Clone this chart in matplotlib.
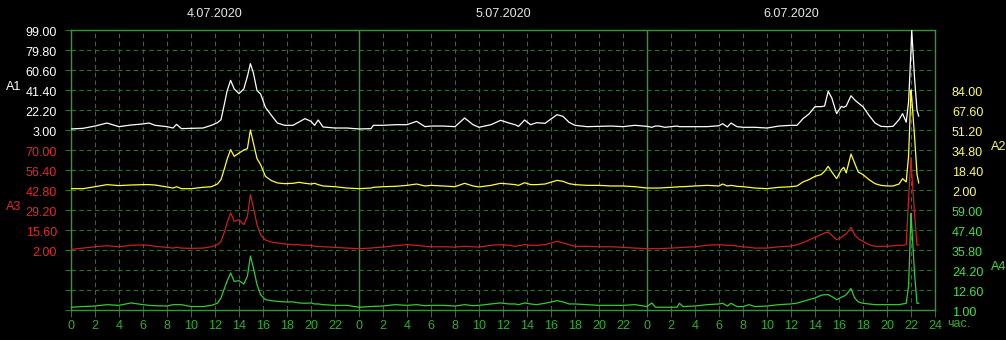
import matplotlib
matplotlib.use('Agg')
import matplotlib.pyplot as plt
import matplotlib.transforms as mtransforms

plt.rcParams['font.family'] = ['Liberation Sans Narrow', 'Liberation Sans', 'DejaVu Sans']

# hours counted from 4.07.2020 00:00
hours = [0, 1, 2, 3, 4, 5, 6, 6.5, 7, 8, 8.5, 8.8, 9.2, 10, 11, 11.7, 12.2, 12.5, 12.8, 13.0,
         13.3, 13.6, 14.0, 14.4, 14.7, 14.95, 15.2, 15.5, 15.8, 16.2, 16.7, 17.2, 17.8, 18.5, 19, 19.5,
         20, 20.3, 20.6, 21, 22, 23,
         24, 25, 25.2, 26, 27, 28, 28.8, 29.5, 30, 31, 32, 32.8, 33.5, 34, 35, 35.8, 36.5, 37, 37.3, 37.8,
         38.3, 38.8, 39.5, 40.5, 41, 41.5, 42, 43, 44, 45, 46, 47,
         48, 48.4, 48.7, 49, 49.5, 50, 50.5, 50.7, 51, 52, 53, 54, 54.3, 54.7, 55, 55.5, 56, 56.5, 57, 58,
         59, 60, 60.5, 61, 61.5, 62, 62.5, 62.8, 63.1, 63.4, 63.8, 64.2, 64.4, 64.6, 65.0, 65.3, 65.6, 66,
         66.5, 67, 67.5, 68, 68.5, 69, 69.3, 69.6, 69.8, 70.0, 70.06, 70.3, 70.5, 70.64]

a1 = [4.0, 4.6, 6.8, 9.7, 6.2, 7.8, 8.8, 9.7, 7.5, 6.2, 4.9, 8.4, 4.3, 4.6, 4.9, 7.5, 10.0, 12.9, 28.9, 40.1,
      50.7, 42.4, 37.9, 42.4, 54.5, 66.7, 57.7, 40.8, 37.6, 24.8, 17.1, 9.7, 7.5, 7.5, 10.7, 13.9,
      11.3, 7.5, 12.6, 5.9, 4.9, 4.9,
      4.0, 4.3, 7.5, 7.5, 8.1, 8.1, 11.3, 6.2, 6.8, 6.8, 6.2, 14.5, 8.1, 5.6, 8.1, 12.3, 9.7, 8.1, 6.5, 12.6,
      8.1, 10.0, 9.4, 17.7, 16.1, 10.4, 7.5, 6.2, 6.5, 6.8, 6.2, 7.5,
      6.5, 5.6, 6.8, 6.8, 5.6, 6.2, 6.8, 6.2, 6.2, 6.2, 6.2, 7.1, 9.1, 5.9, 9.7, 6.2, 5.6, 5.6, 5.6, 4.9,
      6.8, 7.5, 7.5, 13.9, 18.4, 25.4, 25.4, 26.0, 40.1, 33.7, 18.7, 25.7, 24.8, 26.0, 35.9, 32.0, 29.0, 25.4,
      17.1, 9.7, 6.5, 6.2, 6.5, 12.9, 18.7, 10.5, 30.0, 80.0, 99.0, 52.0, 22.0, 16.4]

a2 = [3.1, 3.1, 4.7, 6.4, 5.6, 6.1, 6.4, 6.4, 6.1, 4.5, 3.6, 4.7, 3.1, 3.1, 4.2, 4.7, 6.9, 10.5, 20.0, 26.9,
      35.1, 29.6, 32.3, 34.8, 35.9, 51.2, 40.5, 27.7, 22.8, 13.2, 9.7, 7.8, 7.2, 7.5, 8.3, 7.5,
      6.9, 7.5, 6.4, 5.3, 4.7, 3.6,
      3.1, 3.6, 4.2, 4.7, 5.0, 5.8, 6.9, 5.3, 5.8, 5.3, 4.7, 7.5, 5.3, 4.5, 5.8, 7.5, 6.9, 6.4, 5.8, 8.0,
      6.4, 6.4, 6.9, 9.9, 9.1, 7.2, 6.4, 5.8, 5.8, 5.3, 5.3, 4.7,
      3.6, 3.6, 3.6, 3.6, 3.9, 4.2, 4.5, 4.7, 4.7, 5.3, 5.8, 5.3, 6.9, 5.3, 5.8, 5.0, 4.7, 4.2, 3.6, 3.1,
      4.2, 4.7, 5.3, 8.6, 10.5, 13.2, 14.6, 17.3, 21.4, 16.8, 11.3, 18.7, 20.6, 16.0, 31.5, 24.1, 16.8, 14.6,
      10.5, 7.2, 5.8, 5.3, 5.3, 6.9, 11.3, 8.6, 30.0, 84.0, 78.0, 45.0, 15.0, 7.8]

a3 = [2.4, 3.3, 4.2, 4.9, 4.2, 5.2, 5.4, 5.2, 4.5, 3.8, 3.3, 3.8, 3.3, 3.1, 3.3, 4.2, 5.6, 7.9, 14.7, 20.3,
      27.2, 21.5, 22.6, 19.2, 24.9, 39.6, 30.6, 19.2, 12.4, 8.8, 7.4, 6.8, 6.1, 5.6, 5.6, 5.2,
      5.2, 4.5, 4.5, 4.2, 3.8, 3.3,
      2.9, 3.3, 3.5, 4.0, 4.9, 5.6, 5.2, 4.5, 4.2, 4.2, 4.0, 4.5, 4.2, 4.0, 5.2, 5.6, 5.2, 4.5, 4.9, 5.6,
      5.2, 5.2, 5.6, 7.9, 6.8, 5.6, 4.5, 4.5, 4.2, 4.2, 3.8, 3.3,
      2.9, 2.9, 2.9, 2.9, 3.1, 3.3, 3.5, 3.6, 3.8, 4.2, 5.2, 5.6, 5.4, 5.2, 5.2, 4.7, 4.2, 3.8, 3.3, 3.3,
      4.2, 4.7, 5.6, 7.0, 8.8, 10.6, 12.4, 13.6, 14.2, 12.0, 9.0, 10.6, 12.0, 12.9, 17.4, 12.4, 9.7, 7.9,
      5.6, 4.5, 4.5, 4.5, 4.9, 5.2, 5.2, 5.6, 37.0, 65.0, 55.0, 26.0, 5.4, 5.4]

a4 = [2.6, 3.0, 3.3, 4.1, 3.7, 5.1, 4.1, 3.7, 3.5, 3.3, 4.1, 4.1, 4.1, 3.0, 3.0, 3.7, 4.9, 8.0, 13.8, 17.6,
      22.5, 17.6, 18.0, 16.1, 20.6, 32.3, 25.4, 15.7, 9.9, 7.0, 6.4, 6.0, 5.7, 5.7, 5.1, 4.9,
      5.1, 4.5, 4.5, 4.1, 3.7, 3.7,
      2.6, 3.0, 3.1, 3.3, 4.1, 3.7, 4.1, 3.5, 3.7, 3.7, 3.3, 4.1, 3.5, 3.7, 4.5, 5.1, 4.5, 4.5, 4.1, 5.1,
      4.5, 4.1, 4.9, 6.4, 5.7, 4.5, 4.5, 4.1, 3.7, 3.7, 3.7, 4.1,
      3.0, 5.1, 2.6, 2.6, 2.6, 2.6, 2.6, 4.9, 3.0, 3.3, 4.1, 4.5, 4.9, 3.3, 4.9, 3.0, 3.0, 4.1, 3.0, 3.3,
      4.1, 4.5, 5.0, 6.0, 7.0, 8.0, 9.5, 9.9, 9.9, 8.8, 7.0, 8.4, 9.0, 9.9, 13.4, 8.0, 5.7, 4.9,
      4.5, 4.1, 4.1, 4.1, 4.1, 4.1, 4.5, 4.9, 15.0, 57.0, 50.0, 21.5, 4.9, 4.9]

days = ['4.07.2020', '5.07.2020', '6.07.2020']
ticks_a1 = [3.00, 22.20, 41.40, 60.60, 79.80, 99.00]
ticks_a2 = [2.00, 18.40, 34.80, 51.20, 67.60, 84.00]
ticks_a3 = [2.00, 15.60, 29.20, 42.80, 56.40, 70.00]
ticks_a4 = [1.00, 12.60, 24.20, 35.80, 47.40, 59.00]

grid_c = '#1f7a1f'
frame_c = '#2f9a2f'
fs = 9

fig = plt.figure(figsize=(10.06, 3.40), dpi=100, facecolor='black')
W, H = 1006, 340
x0, x1, y0, y1 = 71, 935, 30, 310
base = fig.add_axes([x0 / W, 1 - y1 / H, (x1 - x0) / W, (y1 - y0) / H])
base.set_facecolor('black')
base.set_xlim(0, 72)
base.set_ylim(0, 14)
base.set_yticks(range(15))
base.set_xticks(range(0, 73, 2))
base.set_xticklabels([str(h % 24) if h < 72 else '24' for h in range(0, 73, 2)])
base.grid(True, color=grid_c, linestyle=(0, (4, 3)), linewidth=0.8)
base.tick_params(axis='y', left=True, right=True, labelleft=False, length=4, color=grid_c, width=0.8)
base.tick_params(axis='x', length=5, color=grid_c, width=0.8, labelcolor='#2fae2f',
                 labelsize=fs, pad=2)
for s in base.spines.values():
    s.set_color(frame_c)
    s.set_linewidth(1)
for d in (24, 48):
    base.axvline(d, color=frame_c, linewidth=1)

unit_tr = base.transAxes + mtransforms.ScaledTranslation(12 / 100, -14 / 100, fig.dpi_scale_trans)
base.text(1.0, 0.0, 'час.', transform=unit_tr, ha='left', va='center',
          color='#2fae2f', fontsize=fs)
for i, d in enumerate(days):
    base.text(12 + 24 * i, 1 + 16 / 280, d, transform=base.get_xaxis_transform(),
              ha='center', va='center', color='#e8e8e8', fontsize=fs)

down = mtransforms.ScaledTranslation(0, -3 / 100, fig.dpi_scale_trans)
series = [
    ('A1', a1, (-169.8, 99.0), ticks_a1, '#ffffff', '#ffffff', 'left', 87),
    ('A2', a2, (-96.4, 133.2), ticks_a2, '#ffff30', '#ffff60', 'right', 147),
    ('A3', a3, (-38.8, 151.6), ticks_a3, '#cc1f1f', '#e02a2a', 'left', 207),
    ('A4', a4, (1.0, 163.4), ticks_a4, '#33cc33', '#44e044', 'right', 267),
]
for name, vals, lim, tks, lc, tc, side, ly in series:
    ax = base.twinx()
    ax.set_ylim(*lim)
    ax.set_yticks([])
    for s in ax.spines.values():
        s.set_visible(False)
    ax.plot(hours, vals, color=lc, linewidth=0.9)
    tr = ax.get_yaxis_transform() + down
    for v in tks:
        if side == 'left':
            ax.text(-14 / 864, v, f'{v:.2f}', transform=tr, ha='right', va='center',
                    color=tc, fontsize=fs)
        else:
            ax.text(1 + 17 / 864, v, f'{v:.2f}', transform=tr, ha='left', va='center',
                    color=tc, fontsize=fs)
    lx = 6 / W if side == 'left' else 991 / W
    fig.text(lx, 1 - ly / H, name, color=tc, fontsize=fs, ha='left', va='center')

fig.savefig('out.png', dpi=100, facecolor='black')
